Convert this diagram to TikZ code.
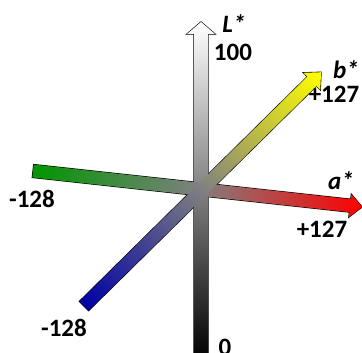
\documentclass[tikz,border=0pt]{standalone}
\usepackage{fontspec}
\setmainfont{Carlito}
\definecolor{agreen}{RGB}{0,150,0}
\definecolor{ared}{RGB}{255,0,0}
\definecolor{bblue}{RGB}{0,0,165}
\definecolor{byellow}{RGB}{255,255,0}
\definecolor{midgray}{RGB}{128,128,128}
\tikzset{
  lab/.style={font=\fontsize{25}{25}\selectfont\bfseries, inner sep=0pt},
  axlab/.style={font=\fontsize{25}{25}\selectfont\bfseries\itshape, inner sep=0pt},
  outline/.style={draw=black, line width=1.2pt},
}
\newcommand\barL[1]{%
  \begin{scope}[transform canvas={xshift=201pt,yshift=-360pt,rotate=90}]
    \path[left color=black, right color=white, middle color=midgray, #1]
      (0,-7) -- (326,-7) -- (326,-14) -- (338,0) -- (326,14) -- (326,7) -- (0,7) -- cycle;
  \end{scope}}
\newcommand\barA[1]{%
  \begin{scope}[transform canvas={xshift=33pt,yshift=-171pt,rotate=-6.24}]
    \path[left color=agreen, right color=ared, middle color=midgray, #1]
      (0,-6.5) -- (319,-6.5) -- (319,-11.5) -- (331,0) -- (319,11.5) -- (319,6.5) -- (0,6.5) -- cycle;
  \end{scope}}
\newcommand\barB[1]{%
  \begin{scope}[transform canvas={xshift=84pt,yshift=-306pt,rotate=44.6}]
    \path[left color=bblue, right color=byellow, middle color=midgray, #1]
      (0,-6.5) -- (320,-6.5) -- (320,-12) -- (333,0) -- (320,12) -- (320,6.5) -- (0,6.5) -- cycle;
  \end{scope}}
\begin{document}
\begin{tikzpicture}[x=1pt,y=-1pt]
\useasboundingbox (0,0) rectangle (362,353);
% outlines
\barL{outline}
\barA{outline}
\barB{outline}
% refills hide outlines where bars overlap
\barL{}
\barA{}
\barB{}
% labels
\node[axlab] (Lstar) at (234,24) {L*};
\node[lab] (L100) at (233,52) {100};
\node[lab] (L0) at (225,347) {0};
\node[axlab] (bstar) at (346,70) {b*};
\node[lab] (bmax) at (334,94) {+127};
\node[lab] (bmin) at (64,328) {-128};
\node[axlab] (astar) at (341,181) {a*};
\node[lab] (amax) at (322,229) {+127};
\node[lab] (amin) at (32,199) {-128};
\end{tikzpicture}
\end{document}
